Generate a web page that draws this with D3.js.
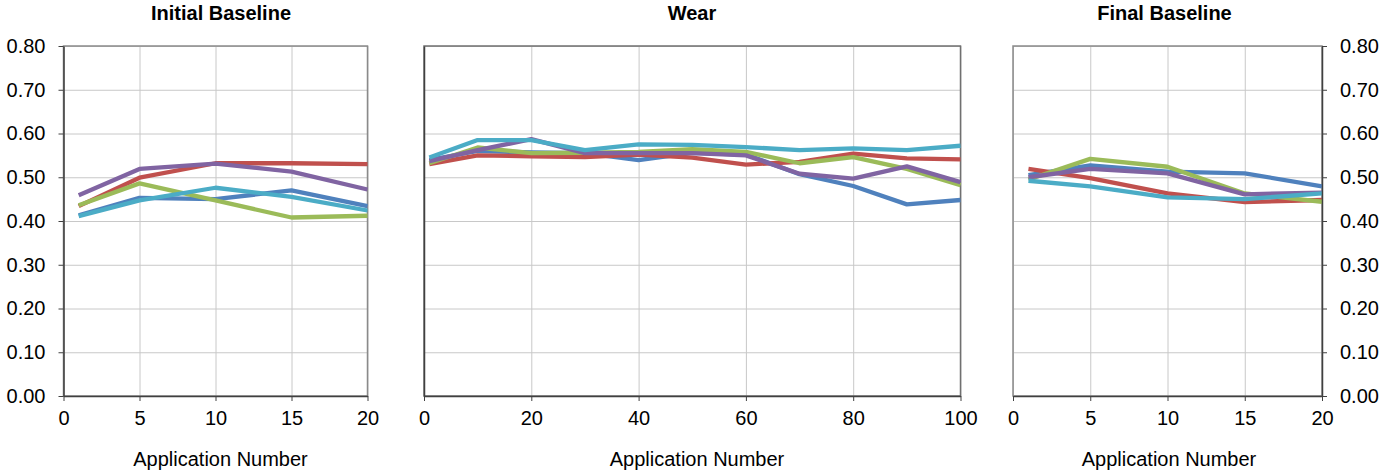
<!DOCTYPE html>
<html>
<head>
<meta charset="utf-8">
<script src="https://cdn.jsdelivr.net/npm/d3@7"></script>
<style>
  html, body { margin: 0; padding: 0; background: #fff; }
  svg { display: block; font-family: "Liberation Sans", Arial, sans-serif; }
</style>
</head>
<body>
<svg id="chart" width="1398" height="475"></svg>
<script>
// ---------- data ----------
const seriesNames = ["Series 1", "Series 2", "Series 3", "Series 4", "Series 5"];
const seriesColors = ["#4F81BD", "#C0504D", "#9BBB59", "#8064A2", "#4BACC6"];

const panelTitles = ["Initial Baseline", "Wear", "Final Baseline"];
const xAxisTitle = "Application Number";

const xInitial = [1, 5, 10, 15, 20];
const xWear = [1, 10, 20, 30, 40, 50, 60, 70, 80, 90, 100];
const xFinal = [1, 5, 10, 15, 20];

const initialBlue   = [0.413, 0.453, 0.450, 0.470, 0.434];
const initialRed    = [0.434, 0.499, 0.532, 0.532, 0.530];
const initialGreen  = [0.436, 0.486, 0.447, 0.408, 0.412];
const initialPurple = [0.459, 0.519, 0.531, 0.513, 0.472];
const initialCyan   = [0.411, 0.447, 0.476, 0.455, 0.424];

const wearBlue   = [0.540, 0.560, 0.557, 0.555, 0.539, 0.556, 0.552, 0.507, 0.480, 0.438, 0.448];
const wearRed    = [0.530, 0.550, 0.548, 0.546, 0.552, 0.545, 0.529, 0.535, 0.554, 0.543, 0.541];
const wearGreen  = [0.532, 0.568, 0.555, 0.556, 0.558, 0.564, 0.558, 0.532, 0.546, 0.519, 0.482];
const wearPurple = [0.537, 0.562, 0.587, 0.555, 0.555, 0.555, 0.550, 0.508, 0.497, 0.525, 0.489];
const wearCyan   = [0.545, 0.585, 0.585, 0.562, 0.575, 0.574, 0.569, 0.562, 0.566, 0.562, 0.572];

const finalBlue   = [0.505, 0.527, 0.513, 0.509, 0.479];
const finalRed    = [0.519, 0.498, 0.463, 0.443, 0.448];
const finalGreen  = [0.495, 0.542, 0.524, 0.463, 0.444];
const finalPurple = [0.500, 0.519, 0.509, 0.461, 0.465];
const finalCyan   = [0.492, 0.479, 0.454, 0.450, 0.463];

const yTicks = [0, 0.1, 0.2, 0.3, 0.4, 0.5, 0.6, 0.7, 0.8];
const xTicksShort = [0, 5, 10, 15, 20];
const xTicksWear = [0, 20, 40, 60, 80, 100];

// ---------- layout ----------
const svg = d3.select("#chart");
const yTop = 46, yBottom = 396;
const y = d3.scaleLinear().domain([0, 0.8]).range([yBottom, yTop]);

const panels = [
  { title: panelTitles[0], x0: 63.5, x1: 367.5, domain: [0, 20], ticks: xTicksShort, xs: xInitial,
    series: [initialBlue, initialRed, initialGreen, initialPurple, initialCyan],
    yAxis: "left", titleX: 221, axisTitleX: 220.5, border: "#8a8a8a" },
  { title: panelTitles[1], x0: 424, x1: 960.5, domain: [0, 100], ticks: xTicksWear, xs: xWear,
    series: [wearBlue, wearRed, wearGreen, wearPurple, wearCyan],
    yAxis: "none", titleX: 692, axisTitleX: 697, border: "#707070" },
  { title: panelTitles[2], x0: 1013, x1: 1322, domain: [0, 20], ticks: xTicksShort, xs: xFinal,
    series: [finalBlue, finalRed, finalGreen, finalPurple, finalCyan],
    yAxis: "right", titleX: 1164.5, axisTitleX: 1169, border: "#8a8a8a" }
];

const fmt = d3.format(".2f");

panels.forEach(p => {
  const x = d3.scaleLinear().domain(p.domain).range([p.x0, p.x1]);
  const g = svg.append("g");

  // vertical gridlines
  g.append("g")
    .attr("transform", `translate(0,${yBottom})`)
    .call(d3.axisBottom(x).tickValues(p.ticks).tickSize(-(yBottom - yTop)).tickFormat(""))
    .call(s => s.select(".domain").remove())
    .call(s => s.selectAll("line").attr("stroke", "#c8c8c8").attr("stroke-width", 1));

  // horizontal gridlines
  g.append("g")
    .attr("transform", `translate(${p.x0},0)`)
    .call(d3.axisLeft(y).tickValues(yTicks).tickSize(-(p.x1 - p.x0)).tickFormat(""))
    .call(s => s.select(".domain").remove())
    .call(s => s.selectAll("line").attr("stroke", "#c8c8c8").attr("stroke-width", 1));

  // plot area border
  g.append("rect")
    .attr("x", p.x0).attr("y", yTop)
    .attr("width", p.x1 - p.x0).attr("height", yBottom - yTop)
    .attr("fill", "none").attr("stroke", p.border).attr("stroke-width", 1.5);

  // lines
  const line = d3.line().x(d => x(d[0])).y(d => y(d[1]));
  p.series.forEach((vals, i) => {
    g.append("path")
      .datum(p.xs.map((xv, j) => [xv, vals[j]]))
      .attr("d", line)
      .attr("fill", "none")
      .attr("stroke", seriesColors[i])
      .attr("stroke-width", 4.3)
      .attr("stroke-linejoin", "round")
      .attr("stroke-linecap", "butt");
  });

  // x axis
  const xa = g.append("g")
    .attr("transform", `translate(0,${yBottom})`)
    .call(d3.axisBottom(x).tickValues(p.ticks).tickSize(5).tickSizeOuter(0).tickPadding(10).tickFormat(d3.format("d")));
  xa.select(".domain").attr("stroke", "#404040").attr("stroke-width", 1.5);
  xa.selectAll("line").attr("stroke", "#404040");
  xa.selectAll("text").attr("font-size", 20).attr("fill", "#000")
    .attr("font-family", "'Liberation Sans', Arial, sans-serif");

  // y axis
  if (p.yAxis === "left") {
    const ya = g.append("g")
      .attr("transform", `translate(${p.x0},0)`)
      .call(d3.axisLeft(y).tickValues(yTicks).tickSize(5).tickSizeOuter(0).tickPadding(13).tickFormat(fmt));
    ya.select(".domain").attr("stroke", "#404040").attr("stroke-width", 1.5);
    ya.selectAll("line").attr("stroke", "#404040");
    ya.selectAll("text").attr("font-size", 20).attr("fill", "#000")
      .attr("font-family", "'Liberation Sans', Arial, sans-serif");
  } else if (p.yAxis === "right") {
    const ya = g.append("g")
      .attr("transform", `translate(${p.x1},0)`)
      .call(d3.axisRight(y).tickValues(yTicks).tickSize(5).tickSizeOuter(0).tickPadding(13).tickFormat(fmt));
    ya.select(".domain").attr("stroke", "#404040").attr("stroke-width", 1.5);
    ya.selectAll("line").attr("stroke", "#404040");
    ya.selectAll("text").attr("font-size", 20).attr("fill", "#000")
      .attr("font-family", "'Liberation Sans', Arial, sans-serif");
  } else {
    g.append("g")
      .attr("transform", `translate(${p.x0},0)`)
      .call(d3.axisLeft(y).tickValues(yTicks).tickSize(0).tickSizeOuter(0).tickFormat(""))
      .call(s => s.select(".domain").attr("stroke", "#404040").attr("stroke-width", 1.5));
  }

  // title
  g.append("text")
    .attr("x", p.titleX).attr("y", 20)
    .attr("text-anchor", "middle")
    .attr("font-size", 20).attr("font-weight", "bold")
    .text(p.title);

  // axis title
  g.append("text")
    .attr("x", p.axisTitleX).attr("y", 466)
    .attr("text-anchor", "middle")
    .attr("font-size", 20)
    .text(xAxisTitle);
});
</script>
</body>
</html>
